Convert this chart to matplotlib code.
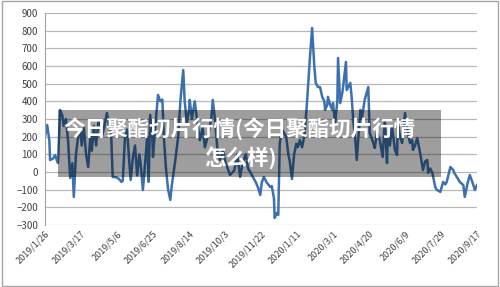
import matplotlib
matplotlib.use("Agg")
import matplotlib.pyplot as plt
import pandas as pd
from matplotlib.patches import Rectangle

# dias contados a partir de 2019/1/26 e valores
dias = [0, 3, 6, 7, 11, 14, 17, 18, 21, 24, 26, 29, 32, 35, 38, 40, 43, 46, 49, 51,
        54, 57, 60, 63, 65, 68, 71, 74, 76, 79, 82, 86, 89, 92, 94, 99, 103, 106, 108, 111,
        114, 117, 119, 122, 125, 128, 131, 133, 136, 139, 142, 144, 146, 149, 150, 153, 157, 160, 163, 165,
        168, 171, 174, 176, 181, 185, 188, 192, 194, 197, 200, 201, 204, 208, 211, 215, 219, 222, 226, 231,
        233, 236, 240, 243, 247, 251, 257, 263, 267, 271, 275, 279, 282, 285, 289, 293, 296, 299, 301, 304,
        308, 313, 315, 318, 319, 322, 324, 326, 329, 332, 335, 338, 340, 343, 346, 349, 351, 354, 357, 360,
        361, 364, 368, 371, 374, 376, 379, 382, 385, 388, 389, 392, 393, 396, 399, 400, 403, 406, 407, 410,
        413, 414, 417, 418, 419, 424, 426, 428, 431, 433, 438, 440, 444, 449, 451, 456, 458, 461, 465, 469,
        472, 475, 476, 479, 482, 486, 489, 490, 493, 496, 500, 504, 507, 510, 511, 514, 517, 521, 525, 528,
        531, 532, 535, 538, 542, 544, 549, 553, 556, 558, 563, 565, 567, 569, 572, 576, 581, 583, 587, 590,
        594, 597, 600]
valores = [200, 266, 180, 68, 75, 96, 60, 51, 351, 320, 260, 300, 180, -34, 50, -141, 100, 200, 240, 150,
           250, 100, 28, 200, 120, 260, 150, 280, 294, 200, 250, 334, 260, 200, -28, -30, -40, -56, -50, 190,
           240, 60, -45, 80, 150, -20, 100, 40, -102, 50, 200, -56, 323, 200, 85, 250, 436, 400, 410, 200,
           20, -100, -158, -80, 68, 200, 400, 577, 400, 277, 350, 408, 300, 400, 300, 180, 250, 140, 200, 300,
           408, 300, 100, 68, 120, 50, -17, 10, 100, -28, 60, 100, 20, 0, -30, -60, -90, -130, -60, -28,
           -60, -85, -80, -150, -260, -232, -243, 160, 240, 220, 198, 100, 60, -40, 100, 160, 140, 180, 140, 200,
           238, 400, 650, 815, 600, 504, 481, 480, 425, 400, 351, 380, 425, 380, 351, 390, 277, 400, 645, 390,
           450, 481, 590, 623, 464, 504, 420, 300, 180, 68, 351, 300, 408, 481, 221, 164, 136, 221, 181, 85,
           294, 51, 198, 150, 255, 125, 96, 277, 200, 164, 334, 221, 164, 181, 125, 150, 192, 108, 11, 60,
           68, -5, 20, -5, -85, -100, -113, -56, -70, -56, 28, 20, 11, -10, -28, -56, -74, -141, -62, -17,
           -62, -102, -74]

inicio = pd.Timestamp("2019-01-26")
datas = [inicio + pd.Timedelta(days=d) for d in dias]
ticks = pd.date_range("2019-01-26", "2020-09-17", freq="50D")
titulo = "今日聚酯切片行情(今日聚酯切片行情\n怎么样)"

plt.rcParams['font.family'] = ['Noto Sans CJK SC', 'DejaVu Sans']

fig = plt.figure(figsize=(5, 2.87), dpi=100)
ax = fig.add_axes([0.09, 0.216, 0.864, 0.739])

ax.plot(datas, valores, color="#3d71ad", lw=1.8)

ax.set_ylim(-300, 900)
ax.set_yticks(range(-300, 1000, 100))
ax.set_xlim(ticks[0], ticks[-1])
ax.set_xticks(ticks)
ax.set_xticklabels([f"{t.year}/{t.month}/{t.day}" for t in ticks], rotation=45,
                   ha="right", rotation_mode="anchor", fontsize=6.5, color="#404040")
ax.tick_params(axis="y", labelsize=7, labelcolor="#404040", length=0, pad=5)
ax.tick_params(axis="x", length=0, pad=3)
ax.grid(axis="y", color="#b8b8b8", lw=0.9)
ax.set_axisbelow(True)
for lado in ["top", "right", "bottom"]:
    ax.spines[lado].set_visible(False)
ax.spines["left"].set_color("#a0a0a0")

# borda externa
fig.patches.append(Rectangle((0.003, 0.005), 0.993, 0.99, transform=fig.transFigure,
                             fill=False, edgecolor="#a6a6a6", lw=1))

# caixa cinza com o texto
fig.patches.append(Rectangle((58 / 500, 1 - 177 / 287), 383 / 500, 67 / 287,
                             transform=fig.transFigure, facecolor="black",
                             alpha=0.38, edgecolor="none", zorder=5))
fig.text(240 / 500, 1 - 143 / 287, titulo, ha="center", va="center", color="white",
         fontsize=15.5, fontweight="bold", linespacing=1.3, zorder=6)

fig.savefig("out.png", dpi=100)
